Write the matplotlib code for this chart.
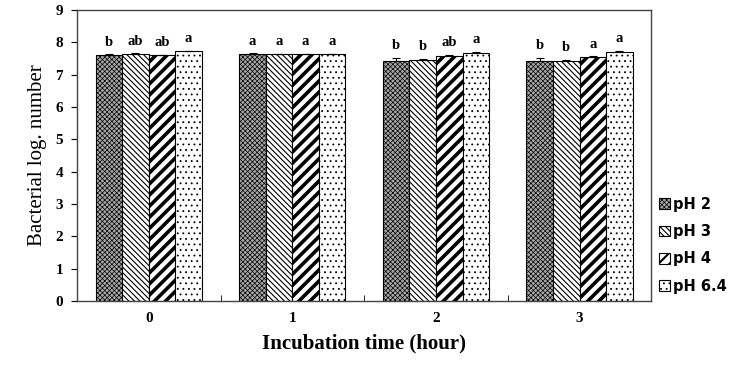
import matplotlib.pyplot as plt
import numpy as np

# data
times = ["0", "1", "2", "3"]
treatments = ["pH 2", "pH 3", "pH 4", "pH 6.4"]
ph2 = [7.61, 7.64, 7.43, 7.43]
ph3 = [7.64, 7.63, 7.46, 7.43]
ph4 = [7.60, 7.63, 7.58, 7.54]
ph64 = [7.72, 7.63, 7.68, 7.71]
ph2_err = [0.02, 0.02, 0.08, 0.08]
ph3_err = [0.02, 0.02, 0.02, 0.02]
ph4_err = [0.02, 0.02, 0.03, 0.03]
ph64_err = [0.02, 0.02, 0.02, 0.02]
ph2_lab = ["b", "a", "b", "b"]
ph3_lab = ["ab", "a", "b", "b"]
ph4_lab = ["ab", "a", "ab", "a"]
ph64_lab = ["a", "a", "a", "a"]

series = [
    (ph2, ph2_err, ph2_lab),
    (ph3, ph3_err, ph3_lab),
    (ph4, ph4_err, ph4_lab),
    (ph64, ph64_err, ph64_lab),
]
styles = [
    {"facecolor": "#a8a8a8", "hatch": "xxxxxxx", "hlw": 0.5},
    {"facecolor": "white", "hatch": "\\\\\\\\\\\\", "hlw": 0.8},
    {"facecolor": "white", "hatch": "///", "hlw": 2.6},
    {"facecolor": "white", "hatch": "...", "hlw": 0.6},
]

serif = "Liberation Serif"

fig = plt.figure(figsize=(7.47, 3.74), dpi=100)
ax = fig.add_axes([0.103, 0.195, 0.769, 0.778])

x = np.arange(len(times))
width = 0.185
offsets = (np.arange(4) - 1.5) * width

handles = []
for i, ((vals, errs, labs), st) in enumerate(zip(series, styles)):
    plt.rcParams["hatch.linewidth"] = st["hlw"]
    bars = ax.bar(
        x + offsets[i],
        vals,
        width,
        facecolor=st["facecolor"],
        edgecolor="black",
        hatch=st["hatch"],
        linewidth=0.8,
        label=treatments[i],
    )
    for b in bars:
        if hasattr(b, "set_hatch_linewidth"):
            b.set_hatch_linewidth(st["hlw"])
    ax.errorbar(
        x + offsets[i], vals, yerr=[np.zeros(4), errs], fmt="none",
        ecolor="black", elinewidth=0.8, capsize=3, capthick=0.8,
    )
    for xi, v, e, lab in zip(x + offsets[i], vals, errs, labs):
        ax.text(xi, v + e + 0.18, lab, ha="center", va="bottom",
                fontsize=10.5, fontweight="bold", family=serif)
    handles.append(bars)

ax.set_xlim(-0.5, 3.5)
ax.set_ylim(0, 9)
ax.set_yticks(range(10))
ax.set_xticks(x)
ax.set_xticklabels(times)
ax.set_xticks([0.5, 1.5, 2.5], minor=True)
ax.tick_params(axis="x", which="major", length=0, pad=8)
ax.tick_params(axis="x", which="minor", direction="in", length=4, width=0.6)
ax.tick_params(axis="y", direction="out", length=4, width=0.8, pad=6)
for lab in ax.get_xticklabels() + ax.get_yticklabels():
    lab.set_family(serif)
    lab.set_fontweight("bold")
    lab.set_fontsize(11)
for s in ax.spines.values():
    s.set_color("#444444")
    s.set_linewidth(1.0)

ax.set_ylabel("Bacterial log. number", family=serif, fontsize=15, labelpad=6)
ax.set_xlabel("Incubation time (hour)", family=serif, fontsize=15,
              fontweight="bold", labelpad=6)

plt.rcParams["hatch.linewidth"] = 1.0
leg = fig.legend(
    handles=handles,
    labels=treatments,
    loc="upper left",
    bbox_to_anchor=(0.875, 0.49),
    frameon=False,
    prop={"family": "DejaVu Sans", "weight": "bold", "size": 10.5},
    handlelength=0.75,
    handleheight=0.75,
    handletextpad=0.2,
    labelspacing=0.85,
    borderaxespad=0,
)
for h, st in zip(leg.legend_handles, styles):
    if hasattr(h, "set_hatch_linewidth"):
        h.set_hatch_linewidth(min(st["hlw"], 1.5))

fig.savefig("out.png", dpi=100)
